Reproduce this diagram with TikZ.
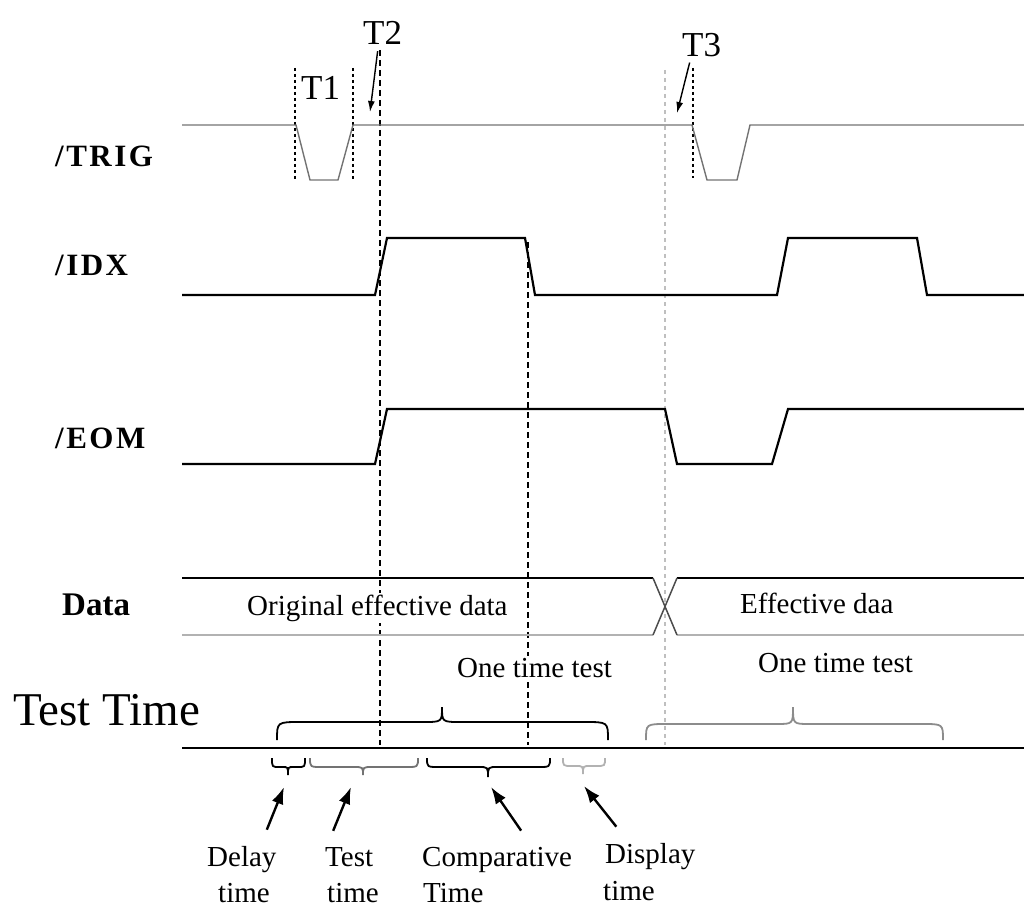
\documentclass[tikz,border=0pt]{standalone}
\usepackage{fontspec}
\setmainfont{Liberation Serif}
\newfontfamily\sigfont[LetterSpace=8]{Liberation Serif}
\usetikzlibrary{arrows.meta}

\tikzset{
  sig/.style={line width=2.2pt, black},
  trigsig/.style={line width=1.4pt, black!55},
  tline/.style={black, line width=1.1pt, dash pattern=on 6pt off 4pt},
  tdot/.style={black, line width=2.4pt, dash pattern=on 3pt off 3pt},
  gdot/.style={black!25, line width=2.6pt, dash pattern=on 4pt off 4pt},
  klammer/.style={line width=1.8pt},
  pfeil/.style={line width=2.4pt, -{Latex[length=17pt,width=12pt]}},
  pfeilklein/.style={line width=1.4pt, -{Latex[length=11pt,width=7pt]}},
  lbl/.style={font=\fontsize{29}{34}\selectfont, inner sep=0pt, anchor=base west},
  siglbl/.style={font=\sigfont\fontsize{31}{36}\selectfont\bfseries, inner sep=0pt, anchor=base west},
  tlbl/.style={font=\fontsize{35}{40}\selectfont, inner sep=0pt, anchor=base west},
}

% Klammer: [Stil] x1 xm x2 yende yflach yspitze
\newcommand{\zeitklammer}[7][]{%
  \pgfmathsetmacro{\klr}{min(1.3*abs(#6-#5),0.45*(#3-#2),0.45*(#4-#3))}%
  \pgfmathsetmacro{\kls}{0.8*\klr}%
  \draw[klammer,#1] (#2,#5) .. controls (#2,#6) .. ({#2+\klr},#6) -- ({#3-\kls},#6)
     .. controls (#3,#6) .. (#3,#7) .. controls (#3,#6) .. ({#3+\kls},#6)
     -- ({#4-\klr},#6) .. controls (#4,#6) .. (#4,#5);}

\begin{document}
\begin{tikzpicture}[x=1pt, y=-1pt]
\useasboundingbox (0,0) rectangle (1024,909);

% Markierungslinien:
\draw[tdot] (295,68) -- (295,180); % T1 links
\draw[tdot] (353,68) -- (353,180); % T1 rechts
\draw[tdot] (693,68) -- (693,178); % T3
\draw[tline] (380,50) -- (380,745); % T2
\draw[tline] (528,242) -- (528,745);
\draw[gdot] (665,70) -- (665,745);

% Signale:
\draw[trigsig] (182,125) -- (296,125) -- (310,180) -- (338,180) -- (353,125) -- (692,125)
  -- (707,180) -- (737,180) -- (750,125) -- (1024,125); % /TRIG
\draw[sig] (182,295) -- (375,295) -- (387,238) -- (525,238) -- (535,295) -- (777,295)
  -- (788,238) -- (917,238) -- (927,295) -- (1024,295); % /IDX
\draw[sig] (182,464) -- (375,464) -- (387,409) -- (665,409) -- (677,464) -- (772,464)
  -- (788,409) -- (1024,409); % /EOM

% Daten:
\draw[line width=1.5pt] (182,578) -- (653,578);
\draw[line width=1.5pt] (677,578) -- (1024,578);
\draw[black!30, line width=2.6pt] (182,635) -- (653,635);
\draw[black!30, line width=2.6pt] (677,635) -- (1024,635);
\draw[line width=1.5pt, black!70] (653,578) -- (677,635);
\draw[line width=1.5pt, black!70] (653,635) -- (677,578);

% Zeitachse:
\draw[line width=2.6pt] (182,748) -- (1024,748);

% Klammern:
\zeitklammer{277}{442}{608}{740}{722}{707}
\zeitklammer[black!45]{646}{793}{943}{740}{724}{707}
\zeitklammer{272}{288}{305}{758}{767}{775}
\zeitklammer[black!55]{310}{363}{418}{758}{767}{775}
\zeitklammer{427}{488}{550}{758}{767}{777}
\zeitklammer[black!30]{563}{583}{605}{758}{766}{774}

% Beschriftung:
\node[siglbl] (trig) at (55,167) {/TRIG};
\node[siglbl] (idx) at (55,275) {/IDX};
\node[siglbl] (eom) at (55,448) {/EOM};
\node[siglbl, font=\fontsize{33}{38}\selectfont\bfseries] (data) at (62,615) {Data};
\node[lbl, font=\fontsize{47}{54}\selectfont] (testzeit) at (13,725) {Test Time};

\node[tlbl] (t1) at (301,100) {T1};
\node[tlbl] (t2) at (363,45) {T2};
\node[tlbl] (t3) at (682,57) {T3};
\coordinate (t2e) at (370,112);
\coordinate (t3e) at (677,113);
\draw[pfeilklein] ([xshift=-5pt,yshift=-6pt]t2.south) -- (t2e);
\draw[pfeilklein] ([xshift=-12pt,yshift=-5pt]t3.south) -- (t3e);

\node[lbl, fill=white, inner sep=2pt] (orig) at (245,615) {Original effective data};
\node[lbl] (eff) at (740,613) {Effective daa};
\node[lbl, fill=white, inner sep=2pt] (einmal1) at (455,677) {One time test};
\node[lbl] (einmal2) at (758,672) {One time test};

% untere Beschriftung:
\node[lbl] (delay) at (207,866) {Delay};
\node[lbl] (delay2) at (218,902) {time};
\node[lbl] (test) at (325,866) {Test};
\node[lbl] (test2) at (327,902) {time};
\node[lbl] (comp) at (422,866) {Comparative};
\node[lbl] (comp2) at (423,902) {Time};
\node[lbl] (disp) at (605,863) {Display};
\node[lbl] (disp2) at (603,900) {time};

\coordinate (kd) at (284,787);
\coordinate (kt) at (351,787);
\coordinate (kc) at (491,787);
\coordinate (kp) at (584,786);
\draw[pfeil] ([xshift=25pt,yshift=16pt]delay.north) -- (kd);
\draw[pfeil] ([xshift=-16pt,yshift=16pt]test.north) -- (kt);
\draw[pfeil] ([xshift=24pt,yshift=16pt]comp.north) -- (kc);
\draw[pfeil] ([xshift=-34pt,yshift=16pt]disp.north) -- (kp);
\end{tikzpicture}
\end{document}
